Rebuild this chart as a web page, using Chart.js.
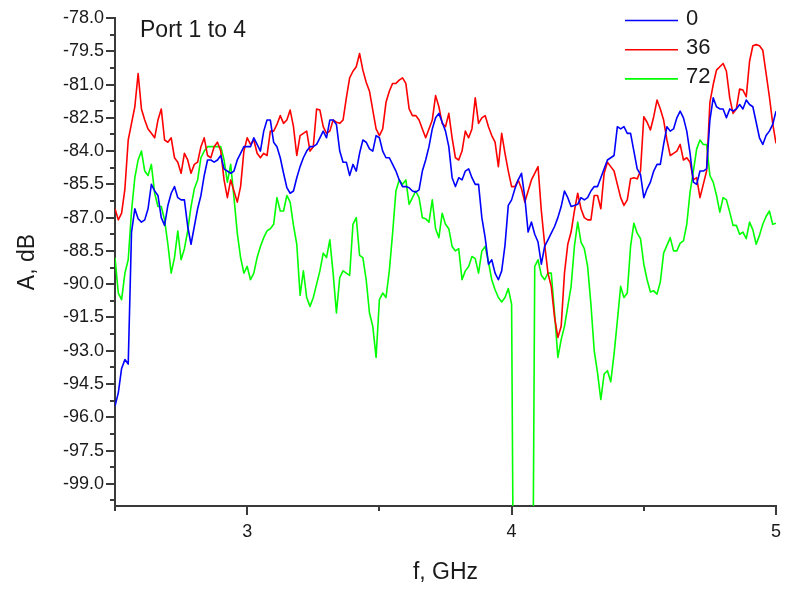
<!DOCTYPE html>
<html>
<head>
<meta charset="utf-8">
<title>Port 1 to 4</title>
<script src="https://cdn.jsdelivr.net/npm/chart.js@4.4.1/dist/chart.umd.min.js"></script>
<style>
  html, body { margin: 0; padding: 0; background: #fff; }
  canvas { display: block; }
</style>
</head>
<body>
<canvas id="chart" width="785" height="589"></canvas>
<script>
// Sweep 2.5 .. 5 GHz, 12.5 MHz per sample
const fStart = 2.5;
const fStep = 0.0125;

// Transmission port 1 -> 4, dB, one array per rotation angle
const angle0 = [
  -95.5, -94.9, -93.8, -93.4, -93.6, -87.65, -86.6, -87.05, -87.2, -87.1,
  -86.6, -85.5, -85.8, -86.0, -87.0, -87.35, -86.45, -85.9, -85.6, -86.1,
  -86.2, -86.2, -87.4, -88.2, -87.4, -86.6, -86.0, -85.1, -84.4, -84.4,
  -84.5, -84.4, -84.2, -84.8, -84.9, -85.0, -84.9, -84.4, -84.1, -83.8,
  -83.8, -83.8, -83.4, -83.7, -84.0, -83.1, -82.6, -82.6, -83.6, -83.8,
  -84.3, -85.0, -85.65, -85.9, -85.8, -85.2, -84.7, -84.3, -84.0, -83.8,
  -83.8, -83.7, -83.4, -83.1, -83.4, -82.6, -82.6, -82.8, -84.0, -84.5,
  -84.5, -85.1, -84.6, -84.9, -84.1, -83.5, -83.6, -83.9, -84.0, -83.3,
  -83.4, -84.0, -84.3, -84.3, -84.6, -84.9, -85.3, -85.6, -85.6, -85.65,
  -85.8, -85.85, -85.75, -84.9, -84.4, -83.8, -83.0, -82.5, -82.3, -82.7,
  -83.1, -83.8, -85.2, -85.6, -85.2, -85.3, -84.9, -84.8, -85.2, -85.5,
  -85.5, -87.0, -87.9, -89.1, -88.9, -89.5, -89.8, -89.4, -88.25, -86.45,
  -86.2, -85.7, -85.3, -85.0, -86.1, -87.65, -87.2, -87.75, -88.1, -89.1,
  -88.3, -88.0, -87.7, -87.4, -87.0, -86.5, -85.8, -86.1, -86.5, -86.45,
  -86.4, -86.1, -86.2, -86.1, -85.8, -85.6, -85.6, -85.2, -84.8, -84.4,
  -84.3, -84.2, -82.9, -83.0, -82.9, -83.2, -83.2, -84.0, -84.8, -85.05,
  -86.1, -85.7, -85.4, -84.9, -84.6, -84.6, -83.7, -82.9, -83.1, -83.0,
  -82.5, -82.2, -82.5, -83.1, -84.1, -85.4, -85.5, -84.9, -84.9, -84.8,
  -82.6, -81.6, -82.0, -82.1, -82.1, -82.5, -82.1, -82.2, -82.1, -81.9,
  -82.1, -81.7, -81.9, -82.0, -82.7, -83.4, -83.7, -83.3, -83.1, -82.8,
  -82.2
];

const angle36 = [
  -86.6, -87.1, -86.8, -85.7, -83.5, -82.75, -82.0, -80.5, -82.1, -82.6,
  -83.0, -83.2, -83.4, -82.6, -82.1, -83.5, -83.6, -83.4, -84.3, -84.5,
  -85.0, -84.1, -84.4, -85.0, -84.6, -84.5, -83.8, -83.4, -84.2, -84.3,
  -83.8, -83.6, -84.0, -85.3, -86.1, -85.3, -85.8, -86.3, -85.6, -84.0,
  -83.4, -83.7, -83.5, -84.1, -84.3, -84.1, -84.2, -83.1, -83.1, -82.8,
  -82.4, -82.75, -82.6, -82.15, -82.9, -84.2, -83.3, -83.2, -83.1, -84.0,
  -83.8, -82.1, -82.15, -82.9, -83.2, -83.1, -82.6, -82.7, -82.75, -82.6,
  -81.6, -80.7, -80.4, -80.2, -79.6, -80.35, -80.9, -81.3, -82.15, -83.0,
  -83.3, -83.0, -81.8, -81.3, -80.95, -80.95, -80.8, -80.7, -80.95, -82.1,
  -82.4, -82.4, -82.6, -83.0, -83.4, -83.0, -82.6, -81.5, -82.0, -82.75,
  -82.9, -82.3, -83.4, -84.3, -84.4, -84.0, -83.1, -83.4, -83.0, -81.6,
  -82.75, -82.5, -82.4, -82.9, -83.3, -83.6, -84.7, -83.2, -84.1, -84.9,
  -85.6, -85.6, -85.3, -85.7, -86.3, -85.8, -85.3, -85.0, -84.7, -86.7,
  -88.2, -89.5, -90.1, -91.5, -92.4, -91.9, -89.5, -88.2, -87.65, -86.7,
  -85.9, -86.6, -87.0, -87.1, -87.1, -86.0, -86.0, -86.6, -85.0, -84.5,
  -84.7, -84.9, -85.5, -86.1, -86.45, -86.2, -85.25, -85.2, -85.25, -84.9,
  -82.45, -82.7, -83.05, -82.45, -81.7, -82.1, -82.6, -83.5, -84.2, -84.1,
  -84.0, -83.7, -84.4, -84.3, -84.5, -85.3, -85.2, -86.1, -85.5, -84.9,
  -81.8, -81.0, -80.35, -80.2, -80.05, -80.4, -81.6, -82.3, -82.1, -81.2,
  -81.25, -81.55, -79.95, -79.25, -79.2, -79.25, -79.45, -80.5, -81.55, -82.75,
  -83.65
];

const angle72 = [
  -88.8, -90.4, -90.7, -89.5, -88.9, -86.7, -85.2, -84.4, -84.0, -84.9,
  -85.1, -84.6, -85.9, -86.5, -86.5, -87.1, -88.2, -89.5, -88.8, -87.6,
  -88.9, -88.4, -87.6, -86.5, -85.7, -85.3, -84.3, -84.0, -83.8, -83.8,
  -83.8, -83.8, -83.8, -84.4, -85.4, -84.6, -86.1, -87.7, -88.8, -89.5,
  -89.2, -89.8, -89.5, -88.8, -88.3, -87.9, -87.6, -87.5, -87.3, -86.1,
  -86.7, -86.7, -86.0, -86.3, -87.35, -88.2, -90.5, -89.4, -90.6, -91.0,
  -90.6, -90.0, -89.4, -88.6, -88.8, -88.0, -89.5, -91.3, -89.7, -89.4,
  -89.5, -89.6, -87.3, -87.0, -88.7, -88.8, -89.8, -91.3, -91.9, -93.3,
  -90.7, -90.4, -90.6, -89.4, -87.7, -85.8, -85.3, -85.5, -85.3, -86.4,
  -86.1, -85.8, -86.1, -87.0, -87.05, -87.2, -86.2, -87.5, -87.9, -86.8,
  -87.3, -87.5, -88.3, -88.5, -88.4, -89.8, -89.4, -89.2, -88.75, -88.85,
  -89.5, -88.5, -88.3, -89.0, -89.8, -90.25, -90.6, -90.8, -90.6, -90.2,
  -90.9, -115, -115, -115, -115, -115, -115, -89.2, -88.9, -89.6,
  -89.8, -89.5, -89.5, -91.3, -93.3, -92.5, -91.9, -91.0, -90.1, -88.3,
  -87.2, -88.1, -88.4, -89.2, -90.9, -93.0, -94.0, -95.2, -94.05, -93.9,
  -94.4, -93.15, -91.65, -90.1, -90.6, -90.4, -88.3, -87.25, -87.7, -87.95,
  -89.1, -89.8, -90.35, -90.3, -90.45, -89.9, -88.6, -88.25, -87.9, -88.5,
  -88.5, -88.15, -88.05, -87.3, -85.85, -84.9, -83.9, -83.5, -83.7, -83.7,
  -85.1, -85.4, -86.0, -86.75, -86.1, -86.2, -86.75, -87.35, -87.35, -87.75,
  -87.65, -87.95, -87.2, -87.55, -88.2, -87.8, -87.3, -86.95, -86.7, -87.3,
  -87.25
];

const seriesLabels = ['0', '36', '72'];
const seriesColors = ['#0000ff', '#ff0000', '#00ff00'];

const xMajorTicks = [3, 4, 5];
const xMinorTicks = [2.5, 3.5, 4.5];
const yMajorTicks = [-78, -79.5, -81, -82.5, -84, -85.5, -87, -88.5, -90, -91.5, -93, -94.5, -96, -97.5, -99];
const yMinorTicks = [-78.75, -80.25, -81.75, -83.25, -84.75, -86.25, -87.75, -89.25, -90.75, -92.25, -93.75, -95.25, -96.75, -98.25, -99.75];

const freq = angle0.map((_, i) => +(fStart + i * fStep).toFixed(4));
const toPoints = arr => arr.map((v, i) => ({ x: freq[i], y: v }));

const FONT = '"Liberation Sans", Arial, sans-serif';
const AXIS_COLOR = '#3a3a3a';
const TEXT_COLOR = '#1a1a1a';

// outward tick marks, long for labelled values, short in between
const tickMarks = {
  id: 'tickMarks',
  afterDraw(chart) {
    const { ctx, chartArea: a, scales: { x, y } } = chart;
    ctx.save();
    ctx.strokeStyle = AXIS_COLOR;
    ctx.lineWidth = 2;
    ctx.beginPath();
    const xTick = (v, len) => {
      const px = Math.round(x.getPixelForValue(v));
      ctx.moveTo(px, a.bottom);
      ctx.lineTo(px, a.bottom + len);
    };
    const yTick = (v, len) => {
      const py = Math.round(y.getPixelForValue(v));
      ctx.moveTo(a.left, py);
      ctx.lineTo(a.left - len, py);
    };
    xMajorTicks.forEach(v => xTick(v, 9));
    xMinorTicks.forEach(v => xTick(v, 5));
    yMajorTicks.forEach(v => yTick(v, 9));
    yMinorTicks.forEach(v => yTick(v, 5));
    ctx.stroke();
    ctx.restore();
  }
};

// plot caption and the angle legend inside the frame
const annotations = {
  id: 'annotations',
  afterDraw(chart) {
    const { ctx } = chart;
    ctx.save();
    ctx.fillStyle = TEXT_COLOR;
    ctx.font = '23px ' + FONT;
    ctx.textBaseline = 'alphabetic';
    ctx.fillText('Port 1 to 4', 140, 37);

    ctx.font = '22px ' + FONT;
    ctx.textBaseline = 'middle';
    chart.data.datasets.forEach((ds, i) => {
      const ly = 20.5 + i * 29.2;
      ctx.strokeStyle = ds.borderColor;
      ctx.lineWidth = 1.6;
      ctx.beginPath();
      ctx.moveTo(625, ly);
      ctx.lineTo(678, ly);
      ctx.stroke();
      ctx.fillText(ds.label, 686, ly - 1.5);
    });
    ctx.restore();
  }
};

new Chart(document.getElementById('chart'), {
  type: 'line',
  data: {
    datasets: [angle0, angle36, angle72].map((arr, i) => ({
      label: seriesLabels[i],
      data: toPoints(arr),
      borderColor: seriesColors[i],
      backgroundColor: seriesColors[i],
      borderWidth: 1.6,
      borderJoinStyle: 'round',
      pointRadius: 0,
      tension: 0,
      fill: false
    }))
  },
  options: {
    responsive: false,
    devicePixelRatio: 1,
    animation: false,
    events: [],
    layout: { padding: { top: 18, right: 9, left: 0, bottom: 0 } },
    scales: {
      x: {
        type: 'linear',
        min: 2.5,
        max: 5,
        afterBuildTicks: s => { s.ticks = xMajorTicks.map(value => ({ value })); },
        afterFit: s => {
          s.height = 83;
          // let the "5" label overhang into the right margin
          s.paddingLeft = 0;
          s.paddingRight = 0;
        },
        ticks: {
          font: { family: FONT, size: 18 },
          color: TEXT_COLOR,
          padding: 15,
          maxRotation: 0,
          autoSkip: false,
          callback: v => String(v)
        },
        grid: { display: false, drawTicks: false },
        border: { display: true, color: AXIS_COLOR, width: 2 },
        title: {
          display: true,
          text: 'f, GHz',
          color: TEXT_COLOR,
          font: { family: FONT, size: 23 },
          padding: { top: 0, bottom: 3 }
        }
      },
      y: {
        min: -100,
        max: -78,
        afterBuildTicks: s => { s.ticks = yMajorTicks.map(value => ({ value })); },
        afterFit: s => {
          s.width = 115;
          s.paddingTop = 0;
          s.paddingBottom = 0;
        },
        ticks: {
          font: { family: FONT, size: 18 },
          color: TEXT_COLOR,
          padding: 11,
          autoSkip: false,
          callback: v => Number(v).toFixed(1)
        },
        grid: { display: false, drawTicks: false },
        border: { display: true, color: AXIS_COLOR, width: 2 },
        title: {
          display: true,
          text: 'A, dB',
          color: TEXT_COLOR,
          font: { family: FONT, size: 23 },
          padding: { top: 14, bottom: 0 }
        }
      }
    },
    plugins: {
      legend: { display: false },
      tooltip: { enabled: false }
    }
  },
  plugins: [tickMarks, annotations]
});
</script>
</body>
</html>
